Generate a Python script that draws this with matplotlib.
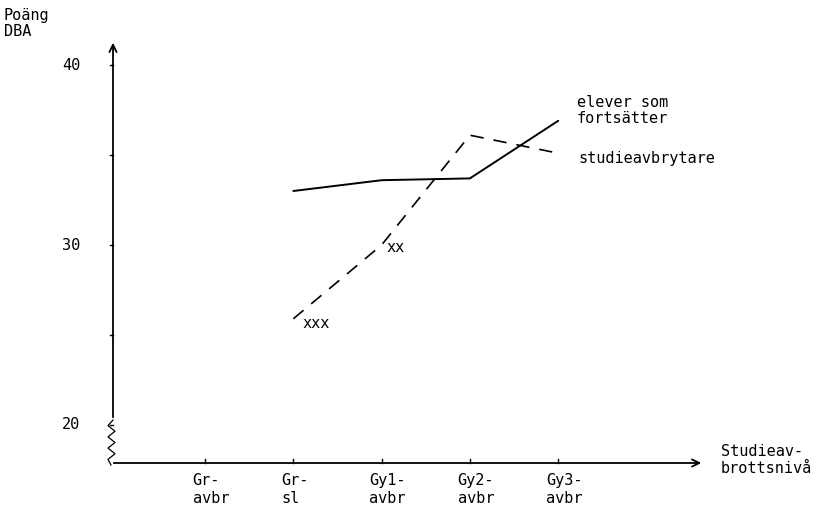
import matplotlib
matplotlib.use("Agg")
import matplotlib.pyplot as plt
import numpy as np

categories = ["Gr-\navbr", "Gr-\nsl", "Gy1-\navbr", "Gy2-\navbr", "Gy3-\navbr"]
cat_pos = [1, 2, 3, 4, 5]
fortsatter_x = [2, 3, 4, 5]
fortsatter = [33.0, 33.6, 33.7, 36.9]
avbrytare_x = [2, 3, 4, 5]
avbrytare = [25.9, 30.0, 36.1, 35.1]
yticks_major = [20, 30, 40]
yticks_minor = [25, 35]

FONT = "DejaVu Sans Mono"
plt.rcParams["font.family"] = [FONT, "DejaVu Sans"]
fs = 11

W, H = 820, 516
fig = plt.figure(figsize=(W / 100, H / 100), dpi=100)

# pixel mapping: x_px = 205 + 88.3*(i-1); y_px = 65 + 18*(40 - v)
def px2x(px):
    return 1 + (px - 205) / 88.3

def px2y(py):
    return 40 - (py - 65) / 18.0

ax = fig.add_axes([0, 0, 1, 1])
ax.set_xlim(px2x(0), px2x(W))
ax.set_ylim(px2y(H), px2y(0))
ax.axis("off")

x0 = px2x(113)
yb = px2y(463)
# y axis
ax.annotate("", xy=(x0, px2y(40)), xytext=(x0, px2y(420)),
            arrowprops=dict(arrowstyle="->", lw=1.3, color="black", mutation_scale=13))
# break squiggle
sq_y = np.linspace(px2y(420), px2y(465), 9)
sq_x = [px2x(v) for v in [113, 108, 115, 108, 115, 108, 115, 108, 111]]
ax.plot(sq_x, sq_y, color="black", lw=0.9)
# x axis
ax.annotate("", xy=(px2x(704), yb), xytext=(px2x(111), yb),
            arrowprops=dict(arrowstyle="->", lw=1.3, color="black", mutation_scale=13))

# y ticks
tl = 3 / 88.3
for v in yticks_major + yticks_minor:
    ax.plot([x0 - tl, x0], [v, v], color="black", lw=1)
for v in yticks_major:
    ax.text(px2x(80), v, str(v), ha="right", va="center", fontsize=fs)

# x ticks
for p, lab in zip(cat_pos, categories):
    ax.plot([p, p], [yb, yb + 4 / 18], color="black", lw=1)
    ax.text(p - 0.14, px2y(473), lab, ha="left", va="top", fontsize=fs, linespacing=1.25)

# lines
ax.plot(fortsatter_x, fortsatter, color="black", lw=1.4, solid_capstyle="round")
ax.plot(avbrytare_x, avbrytare, color="black", lw=1.2, dashes=(8, 6))

# labels
ax.text(px2x(4), px2y(8), "Poäng\nDBA", ha="left", va="top", fontsize=fs, linespacing=1.1)
ax.text(px2x(577), px2y(95), "elever som\nfortsätter", ha="left", va="top", fontsize=fs, linespacing=1.1)
ax.text(px2x(578), px2y(158), "studieavbrytare", ha="left", va="center", fontsize=fs)
ax.text(px2x(386), px2y(247), "xx", ha="left", va="center", fontsize=fs)
ax.text(px2x(302), px2y(323), "xxx", ha="left", va="center", fontsize=fs)
ax.text(px2x(721), px2y(444), "Studieav-\nbrottsnivå", ha="left", va="top", fontsize=fs, linespacing=1.15)

fig.savefig("out.png", dpi=100)
